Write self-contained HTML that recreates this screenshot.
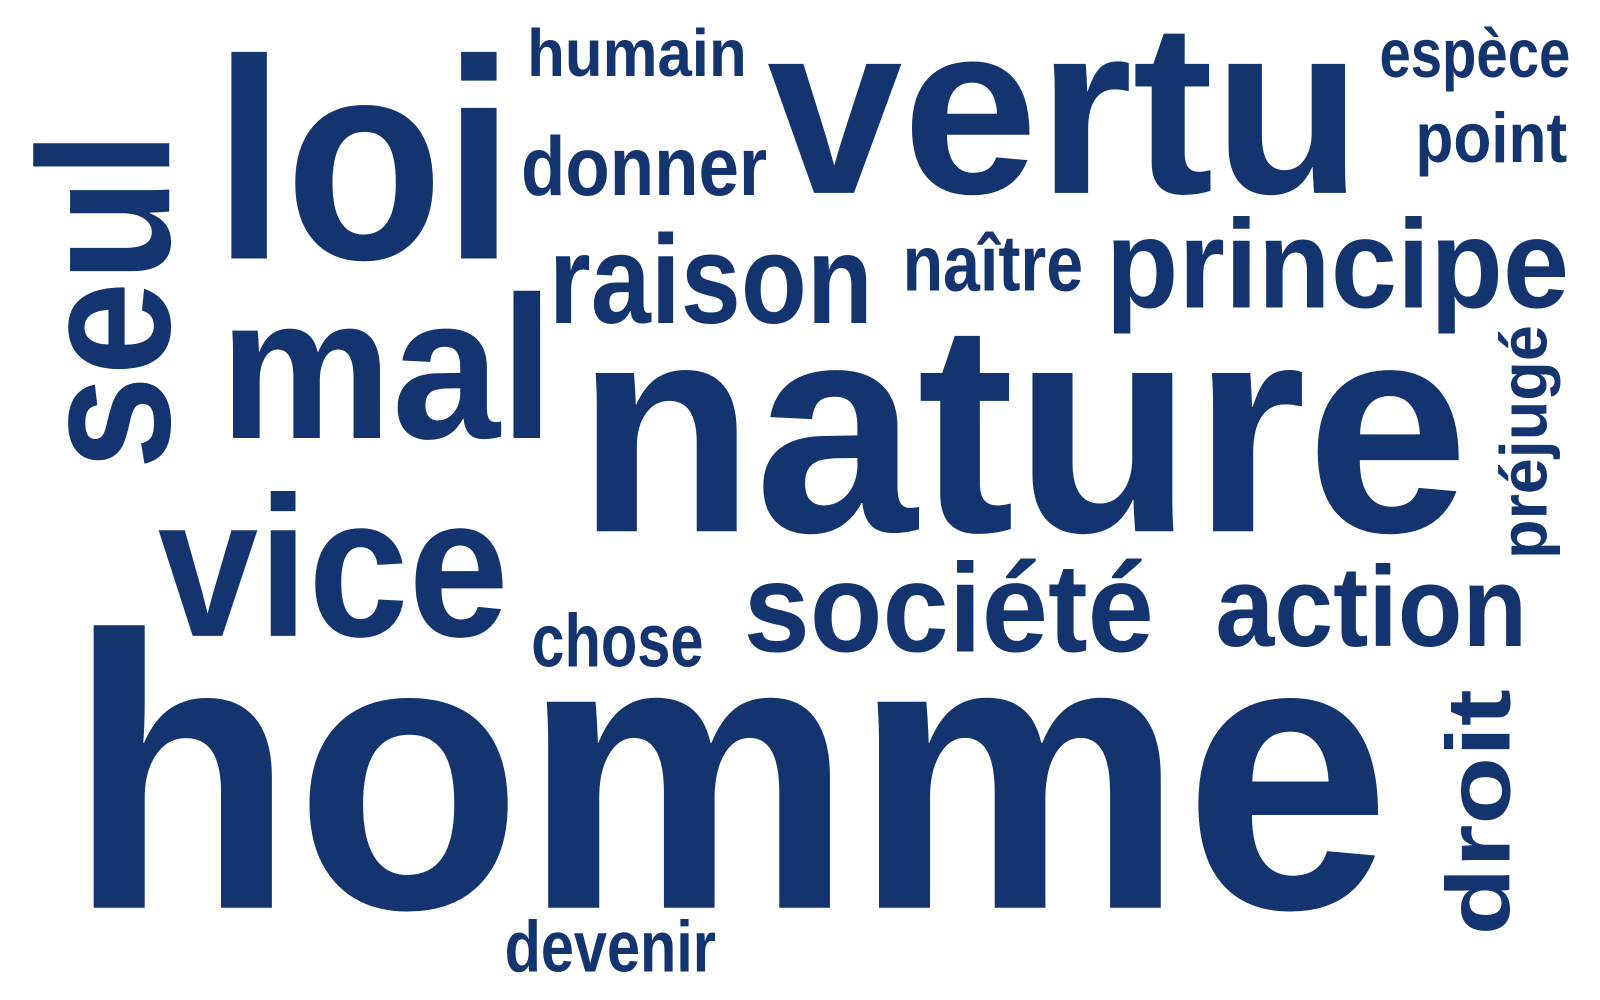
<!DOCTYPE html>
<html><head><meta charset="utf-8"><style>
html,body{margin:0;padding:0;background:#fff;}
svg{display:block}
text{font-family:"Liberation Sans",sans-serif;font-weight:bold;fill:#13346f;}
</style></head><body>
<svg width="1600" height="1000" viewBox="0 0 1560 975" xmlns="http://www.w3.org/2000/svg">
<rect width="1560" height="975" fill="#fff"/>
<g id="words"></g>
</svg>
<script>
const words = ["homme","nature","vertu","loi","mal","vice","raison","principe","naître","donner","humain","espèce","point","société","action","chose","devenir","seul","préjugé","droit"];
const sizes = [380,292,238,278,198,195,123,123,77,81,65,67,69,123,111,73,71,183,64,88];
const xs = [66,562,748,208,214,154,535,1078,880,508,514,1345,1380,725,1185,518,492,165,1508,1472];
const ys = [885,518,188,252,427,620,315,300,283,190,74,75,158,635,630,650,947,458,545,912];
const lens = [1290,870,580,294,326,342,316,452,176,240,214,186,148,400,304,168,206,330,228,240];
const rot = [0,0,0,0,0,0,0,0,0,0,0,0,0,0,0,0,0,-90,-90,-90];
const g = document.getElementById('words');
const NS = "http://www.w3.org/2000/svg";
words.forEach((w,i)=>{
  const t = document.createElementNS(NS,'text');
  t.setAttribute('x', xs[i]);
  t.setAttribute('y', ys[i]);
  t.setAttribute('font-size', sizes[i]);
  t.setAttribute('textLength', lens[i]);
  t.setAttribute('lengthAdjust','spacingAndGlyphs');
  if (rot[i]) t.setAttribute('transform', `rotate(${rot[i]} ${xs[i]} ${ys[i]})`);
  
  
  t.textContent = w;
  g.appendChild(t);
});
</script>
</body></html>
